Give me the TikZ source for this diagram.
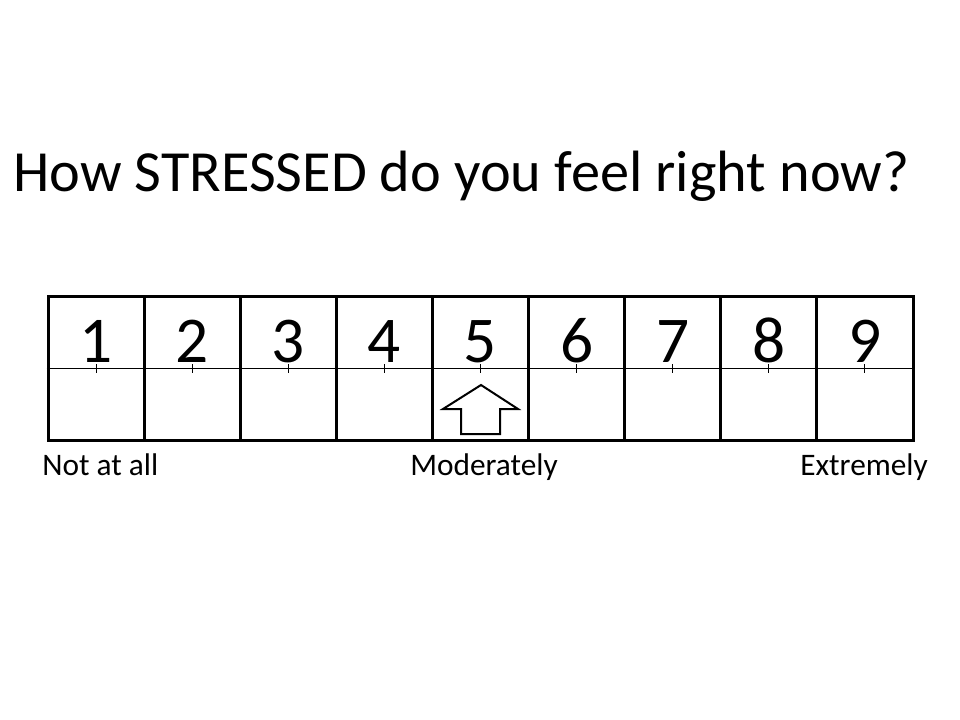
\documentclass[tikz,border=0pt]{standalone}
\usepackage{fontspec}
\setmainfont{Carlito}
\usetikzlibrary{positioning}
\tikzset{
  cell/.style={draw,line width=2.25pt,minimum width=72.08pt,minimum height=107.25pt,inner sep=0pt},
  digit/.style={font=\fontsize{49}{49}\selectfont,anchor=base,inner sep=0pt},
  endlabel/.style={font=\fontsize{23.5}{23.5}\selectfont,anchor=base west,inner sep=0pt},
  midline/.style={line width=0.75pt},
  pointer/.style={draw,line width=1.5pt,line join=miter}
}
\begin{document}
\begin{tikzpicture}[x=0.75pt,y=-0.75pt]
  \useasboundingbox (0,0) rectangle (960,720);
  \node[font=\fontsize{43.7}{43.7}\selectfont,anchor=base west,inner sep=0pt] (title) at (13,192) {How STRESSED do you feel right now?};
  % rating cells
  \foreach \i in {1,...,9} {
    \node[cell] (c\i) at ({48+96.11*(\i-0.5)},368.5) {};
    \node[digit] (d\i) at ({48+96.11*(\i-0.5)},362) {\i};
  }
  \draw[midline] (c1.west) -- (c9.east);
  \foreach \i in {1,...,9}
    \draw[midline] (c\i.center) ++(0,-4.5) -- ++(0,9);
  % pointer under 5
  \draw[pointer] (481,385) -- (518,409) -- (500,409) -- (500,434) -- (461,434) -- (461,409) -- (443,409) -- cycle;
  \node[endlabel] (low) at (42,475) {Not at all};
  \node[endlabel] (mid) at (410,475) {Moderately};
  \node[endlabel] (high) at (800,475) {Extremely};
\end{tikzpicture}
\end{document}
